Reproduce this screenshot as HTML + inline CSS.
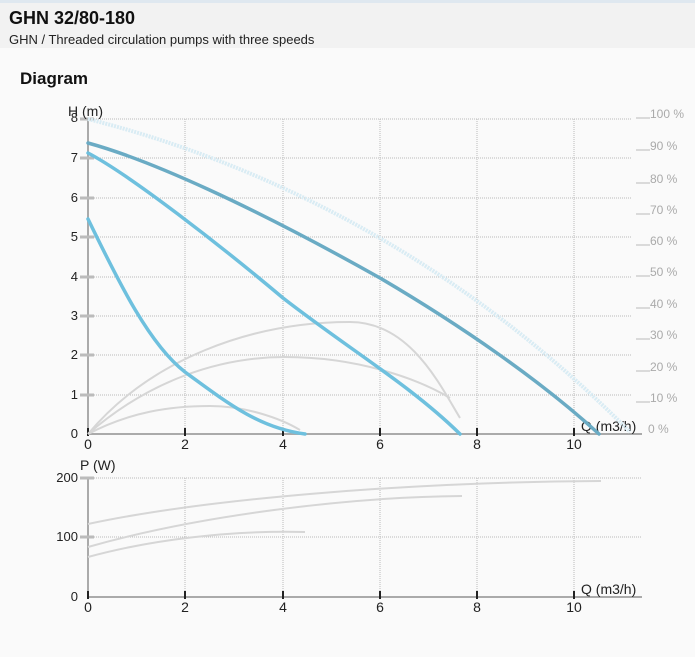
<!DOCTYPE html>
<html><head><meta charset="utf-8"><style>
body{margin:0;width:695px;height:657px;background:#fafafa;font-family:"Liberation Sans",Arial,sans-serif;overflow:hidden;position:relative}
.hd{position:absolute;left:0;top:0;width:695px;height:48px;background:#f2f2f2;border-top:3px solid #dfe8f0;box-sizing:border-box}
.t1{position:absolute;left:9px;top:8px;font-size:18px;font-weight:bold;color:#111}
.t2{position:absolute;left:9px;top:32px;font-size:13px;color:#222}
.t3{position:absolute;left:20px;top:69px;font-size:17px;font-weight:bold;color:#111}
svg{position:absolute;left:0;top:0}
</style></head><body>
<div class="hd"></div>
<div class="t1">GHN 32/80-180</div>
<div class="t2">GHN / Threaded circulation pumps with three speeds</div>
<div class="t3">Diagram</div>
<svg width="695" height="657" font-family="Liberation Sans, Arial, sans-serif">
<g stroke="#bbb" stroke-width="1" stroke-dasharray="1,1" fill="none">
<path d="M88 395H632M88 355H632M88 316H632M88 277H632M88 237H632M88 198H632M88 158H632M88 119H632"/>
<path d="M185 119V434M283 119V434M380 119V434M477 119V434M574 119V434"/>
<path d="M88 537H642M88 478H642"/>
<path d="M185 478V597M283 478V597M380 478V597M477 478V597M574 478V597"/>
</g>
<g stroke="#aaa" stroke-width="2" fill="none">
<path d="M88 119V434H642"/><path d="M88 478V597H642"/>
</g>
<g stroke="#bbb" stroke-width="3">
<path d="M80 395H94M80 355H94M80 316H94M80 277H94M80 237H94M80 198H94M80 158H94M80 119H94"/>
<path d="M80 537H94M80 478H94"/>
</g>
<g stroke="#222" stroke-width="2">
<path d="M88 428V436M185 428V436M283 428V436M380 428V436M477 428V436M574 428V436"/>
<path d="M88 591V599M185 591V599M283 591V599M380 591V599M477 591V599M574 591V599"/>
</g>
<g font-size="14" fill="#222" text-anchor="middle">
<text x="88" y="449">0</text><text x="185" y="449">2</text><text x="283" y="449">4</text><text x="380" y="449">6</text><text x="477" y="449">8</text><text x="574" y="449">10</text>
<text x="88" y="612">0</text><text x="185" y="612">2</text><text x="283" y="612">4</text><text x="380" y="612">6</text><text x="477" y="612">8</text><text x="574" y="612">10</text>
</g>
<g font-size="13" fill="#222" text-anchor="end">
<text x="78" y="438">0</text><text x="78" y="399">1</text><text x="78" y="359">2</text><text x="78" y="320">3</text><text x="78" y="281">4</text><text x="78" y="241">5</text><text x="78" y="202">6</text><text x="78" y="162">7</text><text x="78" y="122">8</text>
<text x="78" y="601">0</text><text x="78" y="541">100</text><text x="78" y="482">200</text>
</g>
<text x="68" y="116" font-size="14" fill="#222">H (m)</text>
<text x="80" y="470" font-size="14" fill="#222">P (W)</text>
<text x="581" y="431" font-size="14" fill="#222">Q (m3/h)</text>
<text x="581" y="594" font-size="14" fill="#222">Q (m3/h)</text>
<g font-size="12" fill="#aaa">
<path d="M636 118H650M636 150H650M636 183H650M636 214H650M636 245H650M636 276H650M636 308H650M636 339H650M636 371H650M636 402H650" stroke="#bbb"/>
<text x="650" y="118">100 %</text><text x="650" y="150">90 %</text><text x="650" y="183">80 %</text><text x="650" y="214">70 %</text><text x="650" y="245">60 %</text><text x="650" y="276">50 %</text><text x="650" y="308">40 %</text><text x="650" y="339">30 %</text><text x="650" y="371">20 %</text><text x="650" y="402">10 %</text><text x="648" y="433">0 %</text>
</g>
<g fill="none" stroke="#d6d6d6" stroke-width="2">
<path d="M88 434C150 360 250 322 350 322C410 322 440 385 460 418"/>
<path d="M88 434C150 380 220 357 285 357C360 357 420 380 450 398"/>
<path d="M88 434C130 412 170 406 210 406C245 406 280 418 300 430"/>
<path d="M88 524C200 500 400 482 601 481"/>
<path d="M88 547C200 515 350 497 462 496"/>
<path d="M88 557C150 540 230 530 305 532"/>
</g>
<path d="M88 119C250 160 450 250 630 432" fill="none" stroke="#d9ecf4" stroke-width="4" stroke-dasharray="2,1"/>
<g fill="none" stroke-width="3.5" stroke-linecap="round">
<path d="M88 143C150 160 250 205 380 278C460 325 540 380 599 434" stroke="#6aabc4"/>
<path d="M88 153C130 175 220 245 283 298C350 350 410 385 460 434" stroke="#6ec0de"/>
<path d="M88 219C120 285 150 345 185 372C230 405 260 428 305 434" stroke="#6ec0de"/>
</g>
</svg>
</body></html>
